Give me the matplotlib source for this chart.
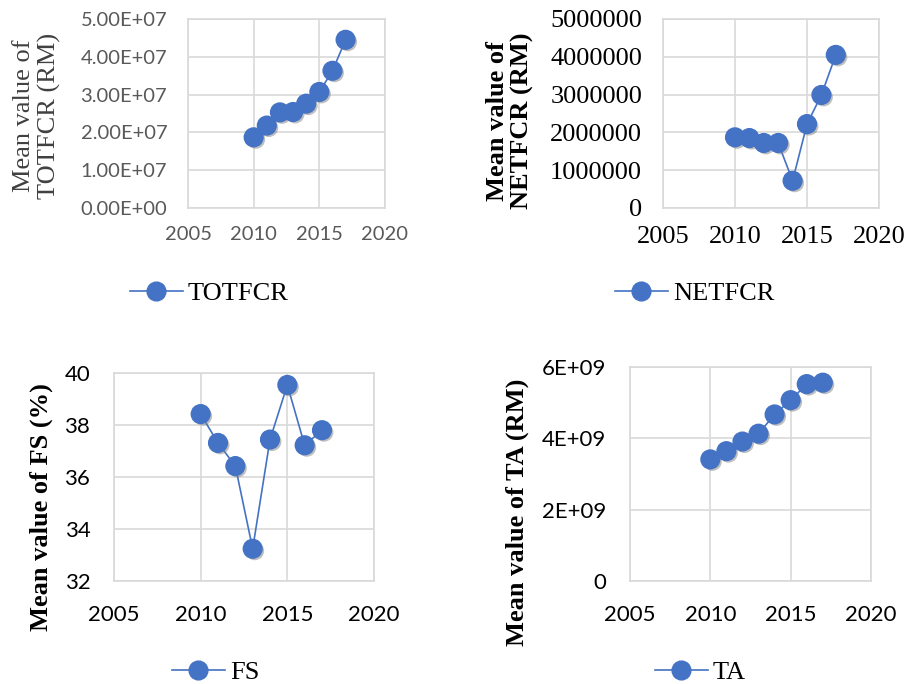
import matplotlib
matplotlib.use("Agg")
import matplotlib.pyplot as plt
import matplotlib.patheffects as pe
from matplotlib.lines import Line2D
from matplotlib.ticker import FixedLocator, FuncFormatter

YEARS = [2010, 2011, 2012, 2013, 2014, 2015, 2016, 2017]

TOTFCR = [1.87e7, 2.18e7, 2.53e7, 2.54e7, 2.76e7, 3.07e7, 3.63e7, 4.45e7]
NETFCR = [1.87e6, 1.85e6, 1.72e6, 1.72e6, 0.72e6, 2.22e6, 2.99e6, 4.05e6]
FS = [38.42, 37.31, 36.42, 33.24, 37.44, 39.54, 37.22, 37.80]
TA = [3.41e9, 3.64e9, 3.91e9, 4.13e9, 4.67e9, 5.07e9, 5.52e9, 5.56e9]

X_TICKS = [2005, 2010, 2015, 2020]

BLUE = "#4472C4"
GRID = "#D9D9D9"
SERIF = "Liberation Serif"
SANS = "Lato"

W, H = 908, 684

# panel layout in pixels: left, top, right, bottom
PANELS = [
    {
        "name": "TOTFCR", "values": TOTFCR, "box": (188, 19, 385, 208),
        "yticks": [0, 1e7, 2e7, 3e7, 4e7, 5e7],
        "fmt": lambda v, p: f"{v:.2E}",
        "tick_font": SANS, "tick_size": 14.5, "tick_color": "#595959",
        "ylabel": "Mean value of\nTOTFCR (RM)", "ylabel_bold": False,
        "ylabel_color": "#404040", "ylabel_pos": (37, 116),
        "legend": (130, 293), "ypad": 15, "xpad": 13,
    },
    {
        "name": "NETFCR", "values": NETFCR, "box": (663, 19, 879, 208),
        "yticks": [0, 1e6, 2e6, 3e6, 4e6, 5e6],
        "fmt": lambda v, p: f"{v:.0f}",
        "tick_font": SERIF, "tick_size": 19, "tick_color": "black",
        "ylabel": "Mean value of\nNETFCR (RM)", "ylabel_bold": True,
        "ylabel_color": "black", "ylabel_pos": (510, 121),
        "legend": (615, 293), "ypad": 15, "xpad": 13,
    },
    {
        "name": "FS", "values": FS, "box": (114, 373, 374, 581),
        "yticks": [32, 34, 36, 38, 40],
        "fmt": lambda v, p: f"{v:.0f}",
        "tick_font": SANS, "tick_size": 16, "tick_color": "black",
        "ylabel": "Mean value of FS (%)", "ylabel_bold": True,
        "ylabel_color": "black", "ylabel_pos": (41, 507),
        "legend": (172, 672), "ypad": 17, "xpad": 17,
    },
    {
        "name": "TA", "values": TA, "box": (630, 367, 871, 581),
        "yticks": [0, 2e9, 4e9, 6e9],
        "fmt": lambda v, p: "0" if v == 0 else f"{v:.0E}",
        "tick_font": SANS, "tick_size": 16, "tick_color": "black",
        "ylabel": "Mean value of TA (RM)", "ylabel_bold": True,
        "ylabel_color": "black", "ylabel_pos": (517, 512),
        "legend": (655, 672), "ypad": 17, "xpad": 17,
    },
]

fig = plt.figure(figsize=(W / 100, H / 100), dpi=100)

shadow = [pe.SimplePatchShadow(offset=(1.5, -1.5), shadow_rgbFace="#808080", alpha=0.5),
          pe.Normal()]

for panel in PANELS:
    left, top, right, bottom = panel["box"]
    ax = fig.add_axes([left / W, 1 - bottom / H, (right - left) / W, (bottom - top) / H])

    ax.plot(YEARS, panel["values"], color=BLUE, linewidth=1.2, zorder=3)
    ax.plot(YEARS, panel["values"], linestyle="none", marker="o", markersize=13.5,
            markerfacecolor=BLUE, markeredgecolor=BLUE, zorder=4, path_effects=shadow)

    ax.set_xlim(2005, 2020)
    ax.set_ylim(panel["yticks"][0], panel["yticks"][-1])
    ax.xaxis.set_major_locator(FixedLocator(X_TICKS))
    ax.yaxis.set_major_locator(FixedLocator(panel["yticks"]))
    ax.yaxis.set_major_formatter(FuncFormatter(panel["fmt"]))

    ax.grid(True, color=GRID, linewidth=1.2)
    ax.set_axisbelow(True)
    for spine in ax.spines.values():
        spine.set_color(GRID)
        spine.set_linewidth(1.2)

    ax.tick_params(axis="both", length=0, labelsize=panel["tick_size"],
                   labelcolor=panel["tick_color"])
    ax.tick_params(axis="y", pad=panel["ypad"])
    ax.tick_params(axis="x", pad=panel["xpad"])
    for label in ax.get_xticklabels() + ax.get_yticklabels():
        label.set_fontfamily(panel["tick_font"])

    lx, ly = panel["ylabel_pos"]
    fig.text(lx / W, 1 - ly / H, panel["ylabel"], rotation=90, ha="center", va="center",
             fontsize=19, family=SERIF, color=panel["ylabel_color"],
             fontweight="bold" if panel["ylabel_bold"] else "normal", linespacing=1.12)

    handle = Line2D([], [], color=BLUE, linewidth=1.2, marker="o", markersize=13.5,
                    markerfacecolor=BLUE, markeredgecolor=BLUE)
    gx, gy = panel["legend"]
    fig.legend([handle], [panel["name"]], loc="center left",
               bbox_to_anchor=(gx / W, 1 - gy / H), frameon=False, borderpad=0,
               borderaxespad=0, handlelength=2.0, handletextpad=0.2,
               prop={"family": SERIF, "size": 19})

fig.savefig("out.png", dpi=100, facecolor="white")
